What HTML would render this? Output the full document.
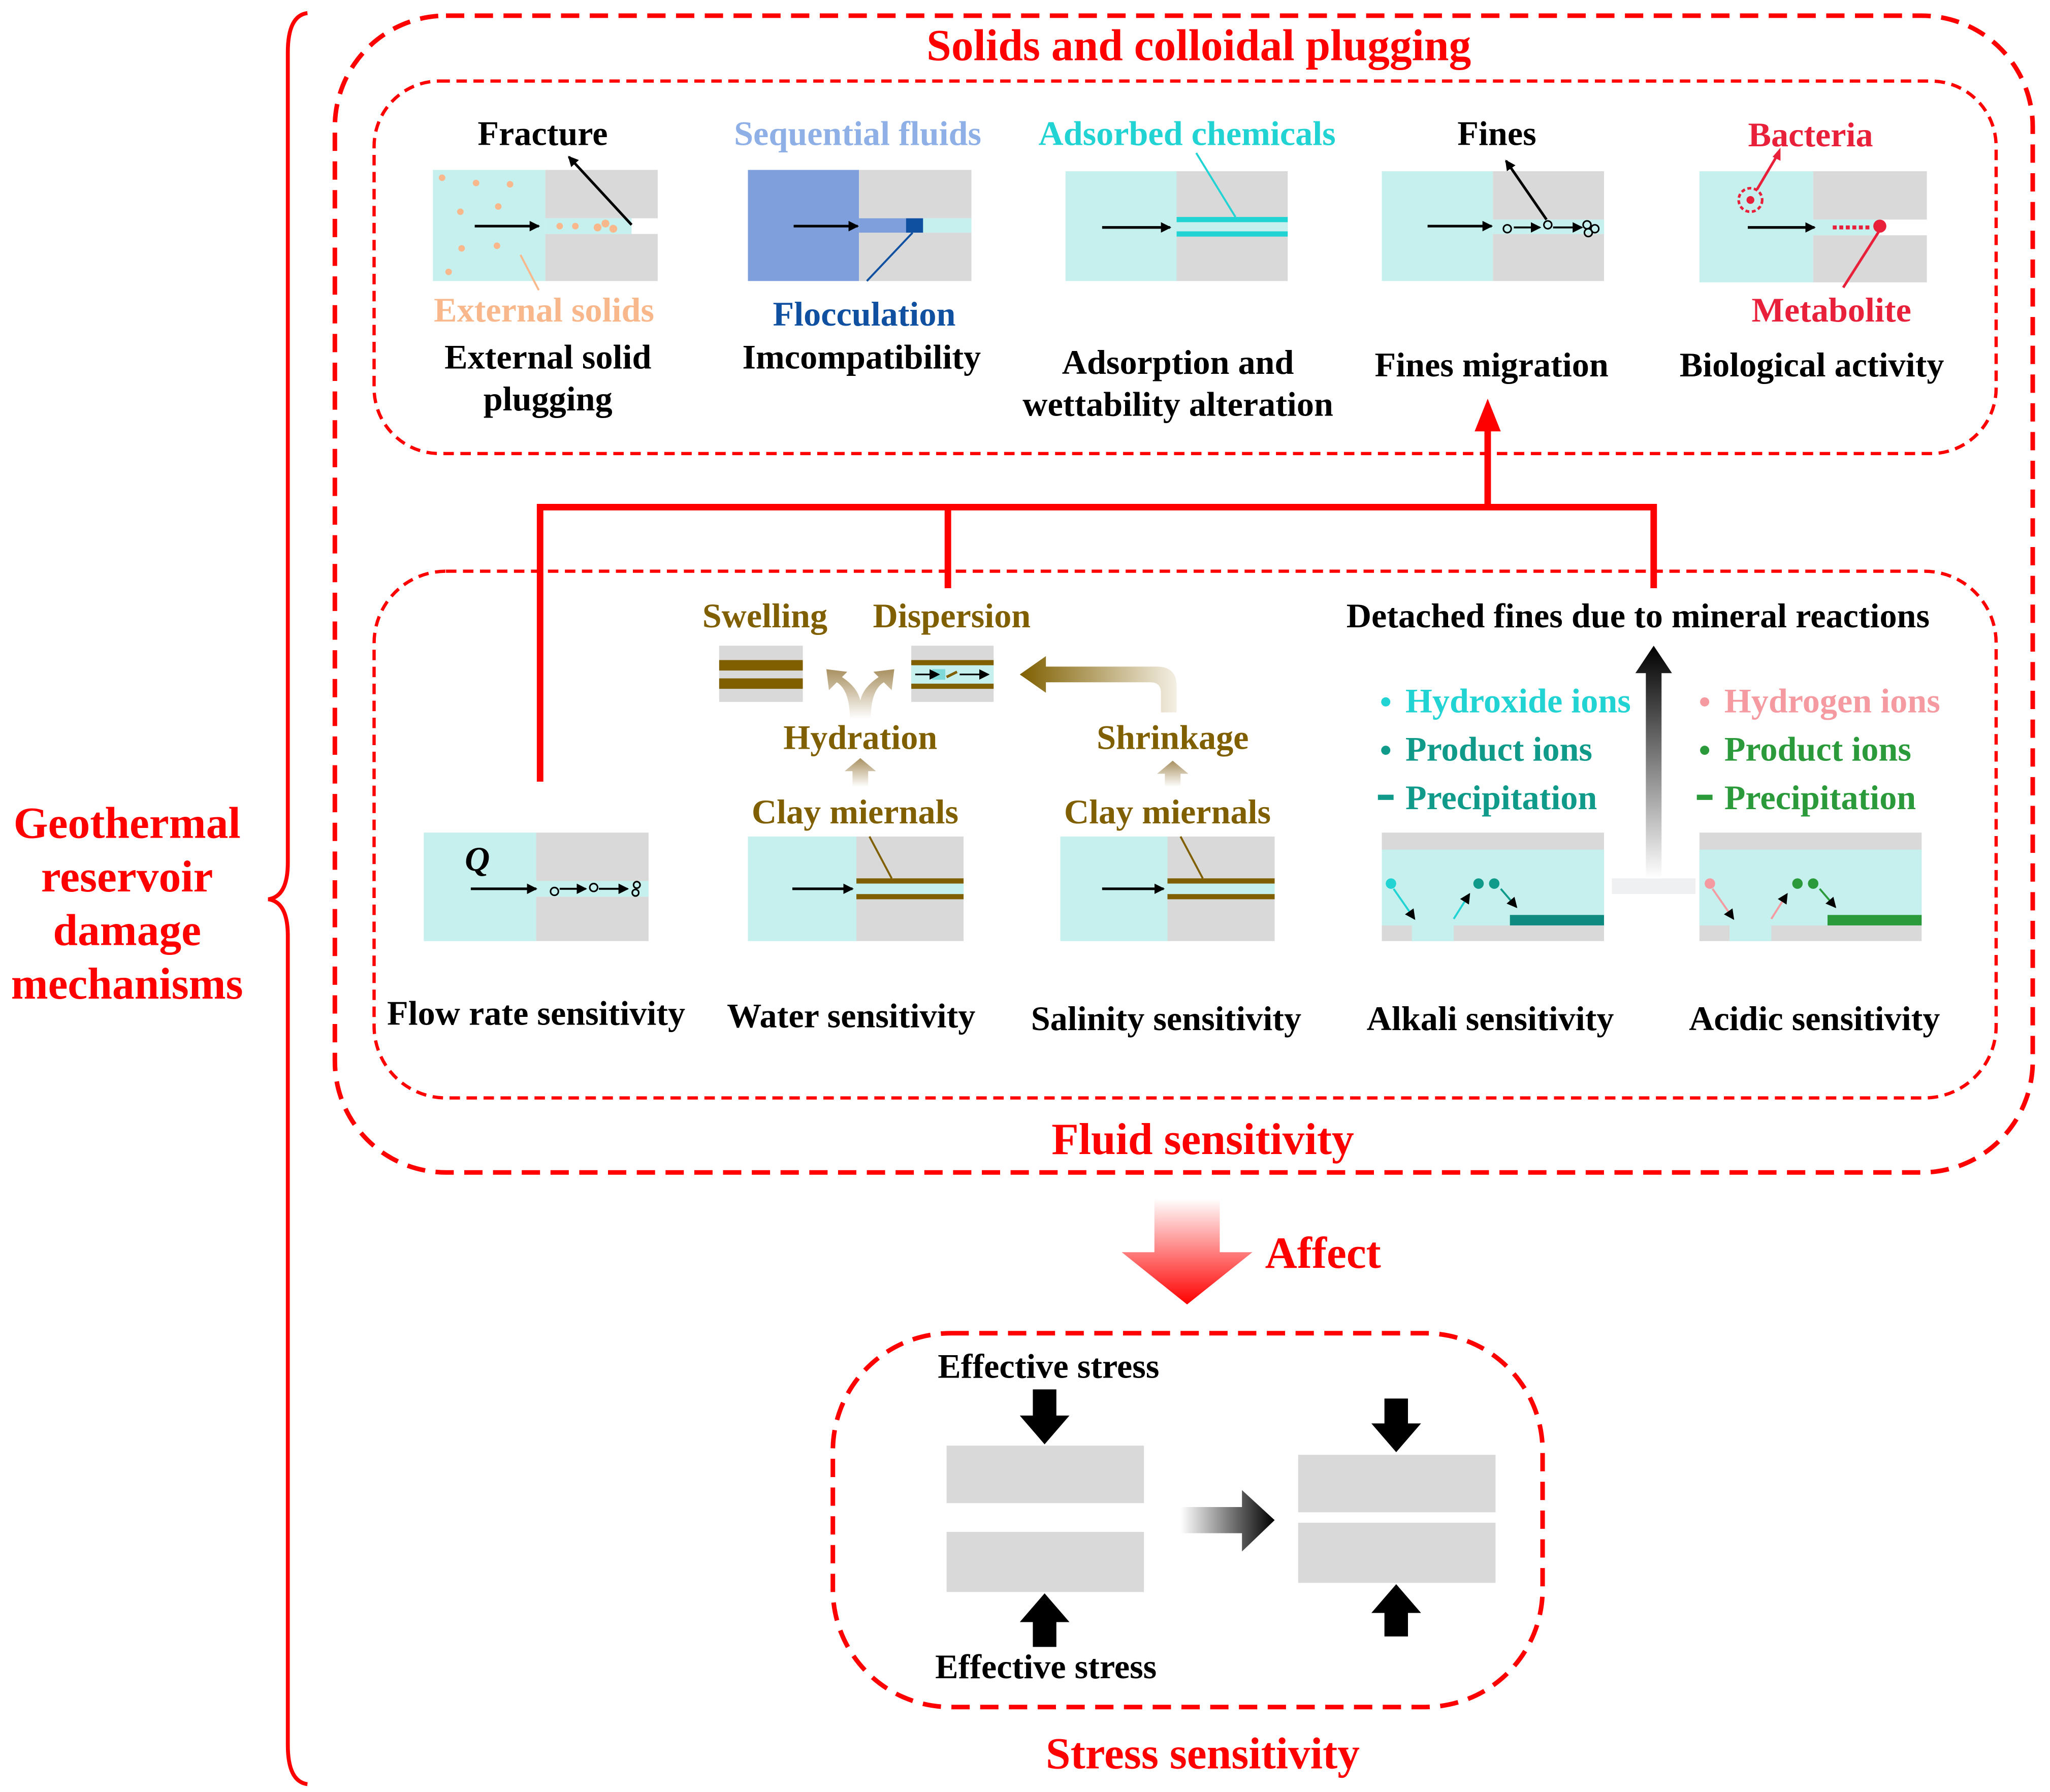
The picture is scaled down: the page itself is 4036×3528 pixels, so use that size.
<!DOCTYPE html>
<html><head><meta charset="utf-8"><style>html,body{margin:0;padding:0;background:#fff}svg{display:block}</style></head><body>
<svg width="4036" height="3528" viewBox="0 0 1568 1371" xmlns="http://www.w3.org/2000/svg" font-family="Liberation Serif, serif" font-weight="bold">
<defs>
<linearGradient id="gr" x1="0" y1="0" x2="0" y2="1"><stop offset="0" stop-color="#fff"/><stop offset="1" stop-color="#f00"/></linearGradient>
<linearGradient id="gb" x1="0" y1="1" x2="0" y2="0"><stop offset="0" stop-color="#fff"/><stop offset="1" stop-color="#000"/></linearGradient>
<linearGradient id="gh" x1="0" y1="0" x2="1" y2="0"><stop offset="0" stop-color="#fff"/><stop offset="1" stop-color="#000"/></linearGradient>
<linearGradient id="gbr" x1="1" y1="0" x2="0" y2="0"><stop offset="0" stop-color="#f4efe4"/><stop offset="1" stop-color="#7f5f00"/></linearGradient>
<linearGradient id="gbu" x1="0" y1="1" x2="0" y2="0"><stop offset="0" stop-color="#fff"/><stop offset="1" stop-color="#a89060"/></linearGradient>
<marker id="ah" markerWidth="8" markerHeight="8" refX="7" refY="4" orient="auto" markerUnits="userSpaceOnUse"><path d="M0,0 L8,4 L0,8z" fill="#000"/></marker>
</defs>
<path d="M235,10 Q220,12 220,40 L220,660 Q220,686 205,688 Q220,690 220,716 L220,1335 Q220,1363 235,1365" fill="none" stroke="#f00" stroke-width="3"/>
<g fill="#f00" font-size="34" text-anchor="middle"><text x="97" y="641">Geothermal</text><text x="97" y="682">reservoir</text><text x="97" y="723">damage</text><text x="97" y="764">mechanisms</text></g>
<rect x="256" y="12" width="1299" height="885" rx="85" fill="none" stroke="#f00" stroke-width="3.5" stroke-dasharray="14,8"/>
<rect x="286" y="62" width="1241" height="285" rx="50" fill="none" stroke="#f00" stroke-width="2.5" stroke-dasharray="8,5"/>
<rect x="286" y="437" width="1241" height="403" rx="55" fill="none" stroke="#f00" stroke-width="2.5" stroke-dasharray="8,5"/>
<rect x="637" y="1020" width="543" height="286" rx="90" fill="none" stroke="#f00" stroke-width="3.5" stroke-dasharray="14,8"/>
<g fill="#f00" font-size="34" text-anchor="middle">
<text x="917" y="46">Solids and colloidal plugging</text>
<text x="920" y="883">Fluid sensitivity</text>
<text x="920" y="1353">Stress sensitivity</text>
<text x="1012" y="970">Affect</text></g>
<path d="M883,917 H933 V958 H958 L908,998 L858,958 H883z" fill="url(#gr)"/>
<g stroke="#f00" stroke-width="5" fill="none"><path d="M413,598 V388 H1265 V450"/><path d="M725,388 V450"/><path d="M1138,388 V325"/></g>
<path d="M1128,330 L1138,305 L1148,330z" fill="#f00"/>
<g font-size="26.5" text-anchor="middle" fill="#000">
<rect x="331" y="130" width="86" height="85" fill="#c5f0ee"/><rect x="417" y="130" width="86" height="37" fill="#d9d9d9"/><rect x="417" y="179" width="86" height="36" fill="#d9d9d9"/><rect x="417" y="167" width="66" height="12" fill="#c5f0ee"/>
<line x1="363" y1="173" x2="412" y2="173" stroke="#000" stroke-width="2" marker-end="url(#ah)"/>
<line x1="483" y1="172" x2="435" y2="120" stroke="#000" stroke-width="2" marker-end="url(#ah)"/>
<g fill="#f8b88b"><circle cx="338" cy="136" r="2.5"/><circle cx="364" cy="140" r="2.5"/><circle cx="390" cy="141" r="2.5"/><circle cx="352" cy="162" r="2.5"/><circle cx="381" cy="158" r="2.5"/><circle cx="353" cy="190" r="2.5"/><circle cx="380" cy="188" r="2.5"/><circle cx="343" cy="208" r="2.5"/><circle cx="428" cy="173" r="2.5"/><circle cx="440" cy="173" r="2.5"/><circle cx="457" cy="174" r="3"/><circle cx="463" cy="171" r="3"/><circle cx="469" cy="175" r="3"/></g>
<line x1="398" y1="195" x2="412" y2="222" stroke="#f8b88b" stroke-width="1.5"/>
<text x="415" y="111">Fracture</text><text x="416" y="246" fill="#f8b88b">External solids</text><text x="419" y="282">External solid</text><text x="419" y="314">plugging</text>
<rect x="572" y="130" width="85" height="85" fill="#7f9fdc"/><rect x="657" y="130" width="86" height="37" fill="#d9d9d9"/><rect x="657" y="178" width="86" height="37" fill="#d9d9d9"/><rect x="657" y="167" width="86" height="11" fill="#c5f0ee"/><rect x="657" y="167" width="36" height="11" fill="#7f9fdc"/><rect x="693" y="167" width="13" height="11" fill="#1050a0"/>
<line x1="607" y1="173" x2="656" y2="173" stroke="#000" stroke-width="2" marker-end="url(#ah)"/>
<line x1="698" y1="178" x2="663" y2="215" stroke="#1050a0" stroke-width="1.5"/>
<text x="656" y="111" fill="#8fb0e6">Sequential fluids</text><text x="661" y="249" fill="#1050a0">Flocculation</text><text x="659" y="282">Imcompatibility</text>
<rect x="815" y="131" width="85" height="84" fill="#c5f0ee"/><rect x="900" y="131" width="85" height="84" fill="#d9d9d9"/><rect x="900" y="166" width="85" height="4" fill="#22d3d3"/><rect x="900" y="177" width="85" height="4" fill="#22d3d3"/><rect x="900" y="170" width="85" height="7" fill="#c5f0ee"/>
<line x1="843" y1="174" x2="895" y2="174" stroke="#000" stroke-width="2" marker-end="url(#ah)"/>
<line x1="945" y1="166" x2="915" y2="117" stroke="#22d3d3" stroke-width="1.5"/>
<text x="908" y="111" fill="#22d3d3">Adsorbed chemicals</text><text x="901" y="286">Adsorption and</text><text x="901" y="318">wettability alteration</text>
<rect x="1057" y="131" width="85" height="84" fill="#c5f0ee"/><rect x="1142" y="131" width="85" height="37" fill="#d9d9d9"/><rect x="1142" y="179" width="85" height="36" fill="#d9d9d9"/><rect x="1142" y="168" width="85" height="11" fill="#c5f0ee"/>
<line x1="1092" y1="173" x2="1141" y2="173" stroke="#000" stroke-width="2" marker-end="url(#ah)"/>
<line x1="1158" y1="174" x2="1178" y2="174" stroke="#000" stroke-width="1.5" marker-end="url(#ah)"/><line x1="1188" y1="174" x2="1210" y2="174" stroke="#000" stroke-width="1.5" marker-end="url(#ah)"/>
<g fill="none" stroke="#000" stroke-width="1.2"><circle cx="1153" cy="175" r="3"/><circle cx="1184" cy="172" r="3"/><circle cx="1214" cy="172" r="3"/><circle cx="1220" cy="175" r="3"/><circle cx="1215" cy="178" r="3"/></g>
<line x1="1183" y1="168" x2="1152" y2="123" stroke="#000" stroke-width="2" marker-end="url(#ah)"/>
<text x="1145" y="111">Fines</text><text x="1141" y="288">Fines migration</text>
<rect x="1300" y="131" width="87" height="85" fill="#c5f0ee"/><rect x="1387" y="131" width="87" height="37" fill="#d9d9d9"/><rect x="1387" y="180" width="87" height="36" fill="#d9d9d9"/><rect x="1387" y="168" width="50" height="12" fill="#c5f0ee"/>
<line x1="1337" y1="174" x2="1388" y2="174" stroke="#000" stroke-width="2" marker-end="url(#ah)"/>
<circle cx="1339" cy="153" r="9" fill="none" stroke="#e8203a" stroke-width="2" stroke-dasharray="3,2"/><circle cx="1339" cy="153" r="3" fill="#e8203a"/>
<line x1="1344" y1="145" x2="1360" y2="118" stroke="#e8203a" stroke-width="2"/><path d="M1356,120 L1362,113 L1362,123z" fill="#e8203a"/>
<line x1="1402" y1="174" x2="1430" y2="174" stroke="#e8203a" stroke-width="3" stroke-dasharray="3,2"/><circle cx="1438" cy="173" r="5" fill="#e8203a"/>
<line x1="1438" y1="176" x2="1410" y2="220" stroke="#e8203a" stroke-width="2"/>
<text x="1385" y="112" fill="#e8203a">Bacteria</text><text x="1401" y="246" fill="#e8203a">Metabolite</text><text x="1386" y="288">Biological activity</text>
<rect x="324" y="637" width="86" height="83" fill="#c5f0ee"/><rect x="410" y="637" width="86" height="37" fill="#d9d9d9"/><rect x="410" y="686" width="86" height="34" fill="#d9d9d9"/><rect x="410" y="674" width="86" height="12" fill="#c5f0ee"/>
<text x="365" y="666" font-style="italic">Q</text>
<line x1="360" y1="680" x2="410" y2="680" stroke="#000" stroke-width="2" marker-end="url(#ah)"/>
<line x1="428" y1="680" x2="448" y2="680" stroke="#000" stroke-width="1.5" marker-end="url(#ah)"/><line x1="458" y1="680" x2="480" y2="680" stroke="#000" stroke-width="1.5" marker-end="url(#ah)"/>
<g fill="none" stroke="#000" stroke-width="1.2"><circle cx="424" cy="682" r="3"/><circle cx="454" cy="679" r="3"/><circle cx="487" cy="677" r="2.5"/><circle cx="486" cy="683" r="2.5"/></g>
<text x="410" y="784">Flow rate sensitivity</text>
<rect x="572" y="640" width="83" height="80" fill="#c5f0ee"/><rect x="655" y="640" width="82" height="80" fill="#d9d9d9"/><rect x="655" y="672" width="82" height="4" fill="#7f5f00"/><rect x="655" y="684" width="82" height="4" fill="#7f5f00"/><rect x="655" y="676" width="82" height="8" fill="#c5f0ee"/>
<line x1="606" y1="680" x2="652" y2="680" stroke="#000" stroke-width="2" marker-end="url(#ah)"/>
<line x1="682" y1="672" x2="665" y2="640" stroke="#7f5f00" stroke-width="1.5"/>
<g fill="#7f5f00"><text x="654" y="630">Clay miernals</text><text x="658" y="573">Hydration</text><text x="585" y="480">Swelling</text><text x="728" y="480">Dispersion</text><text x="897" y="573">Shrinkage</text><text x="893" y="630">Clay miernals</text></g>
<path d="M652,602 V590 H646 L658,580 L670,590 H664 V602z" fill="url(#gbu)"/>
<path d="M650,550 Q650,528 640,522 L634,528 L632,512 L648,514 L644,518 Q656,526 658,536 Q660,526 672,518 L668,514 L684,512 L682,528 L676,522 Q666,528 666,550z" fill="url(#gbu)"/>
<rect x="550" y="494" width="64" height="43" fill="#d9d9d9"/><rect x="550" y="505" width="64" height="8" fill="#7f5f00"/><rect x="550" y="519" width="64" height="8" fill="#7f5f00"/>
<rect x="697" y="494" width="63" height="43" fill="#d9d9d9"/><rect x="697" y="505" width="63" height="4" fill="#7f5f00"/><rect x="697" y="523" width="63" height="4" fill="#7f5f00"/><rect x="697" y="509" width="63" height="14" fill="#c5f0ee"/><rect x="713" y="512" width="10" height="8" fill="#7fd8d8"/>
<line x1="700" y1="516" x2="718" y2="516" stroke="#000" stroke-width="1.2" marker-end="url(#ah)"/><line x1="734" y1="516" x2="756" y2="516" stroke="#000" stroke-width="1.2" marker-end="url(#ah)"/><line x1="724" y1="518" x2="732" y2="514" stroke="#7f5f00" stroke-width="2"/>
<text x="651" y="786">Water sensitivity</text>
<rect x="811" y="640" width="82" height="80" fill="#c5f0ee"/><rect x="893" y="640" width="82" height="80" fill="#d9d9d9"/><rect x="893" y="672" width="82" height="4" fill="#7f5f00"/><rect x="893" y="684" width="82" height="4" fill="#7f5f00"/><rect x="893" y="676" width="82" height="8" fill="#c5f0ee"/>
<line x1="843" y1="680" x2="890" y2="680" stroke="#000" stroke-width="2" marker-end="url(#ah)"/>
<line x1="920" y1="672" x2="903" y2="640" stroke="#7f5f00" stroke-width="1.5"/>
<path d="M891,602 V592 H885 L897,582 L909,592 H903 V602z" fill="url(#gbu)"/>
<path d="M888,545 V530 Q888,522 880,522 H800 V530 L780,516 L800,502 V510 H885 Q900,510 900,525 V545z" fill="url(#gbr)"/>
<text x="892" y="788">Salinity sensitivity</text>
<text x="1253" y="480">Detached fines due to mineral reactions</text>
<rect x="1057" y="637" width="170" height="83" fill="#d9d9d9"/><rect x="1057" y="650" width="170" height="58" fill="#c5f0ee"/><rect x="1080" y="708" width="32" height="12" fill="#c5f0ee"/><rect x="1155" y="700" width="72" height="8" fill="#0f8a80"/>
<circle cx="1064" cy="676" r="4" fill="#22d3d3"/><line x1="1066" y1="680" x2="1082" y2="703" stroke="#22d3d3" stroke-width="1.5" marker-end="url(#ah)"/>
<line x1="1112" y1="703" x2="1124" y2="684" stroke="#22d3d3" stroke-width="1.5" marker-end="url(#ah)"/>
<circle cx="1131" cy="676" r="4" fill="#0f9a8a"/><circle cx="1143" cy="676" r="4" fill="#0f9a8a"/><line x1="1148" y1="680" x2="1160" y2="694" stroke="#0f9a8a" stroke-width="1.5" marker-end="url(#ah)"/>
<g text-anchor="start"><circle cx="1060" cy="537" r="3.5" fill="#22d3d3"/><text x="1075" y="545" fill="#22d3d3">Hydroxide ions</text>
<circle cx="1060" cy="574" r="3.5" fill="#0f9a8a"/><text x="1075" y="582" fill="#0f9a8a">Product ions</text>
<rect x="1054" y="608" width="12" height="4" fill="#0f9a8a"/><text x="1075" y="619" fill="#0f9a8a">Precipitation</text>
<circle cx="1304" cy="537" r="3.5" fill="#f59aa0"/><text x="1319" y="545" fill="#f59aa0">Hydrogen ions</text>
<circle cx="1304" cy="574" r="3.5" fill="#2a9a3a"/><text x="1319" y="582" fill="#2a9a3a">Product ions</text>
<rect x="1298" y="608" width="12" height="4" fill="#2a9a3a"/><text x="1319" y="619" fill="#2a9a3a">Precipitation</text></g>
<text x="1140" y="788">Alkali sensitivity</text>
<rect x="1300" y="637" width="170" height="83" fill="#d9d9d9"/><rect x="1300" y="650" width="170" height="58" fill="#c5f0ee"/><rect x="1323" y="708" width="32" height="12" fill="#c5f0ee"/><rect x="1398" y="700" width="72" height="8" fill="#2a9a3a"/>
<circle cx="1308" cy="676" r="4" fill="#f59aa0"/><line x1="1310" y1="680" x2="1326" y2="703" stroke="#f59aa0" stroke-width="1.5" marker-end="url(#ah)"/>
<line x1="1355" y1="703" x2="1367" y2="684" stroke="#f59aa0" stroke-width="1.5" marker-end="url(#ah)"/>
<circle cx="1375" cy="676" r="4" fill="#2a9a3a"/><circle cx="1387" cy="676" r="4" fill="#2a9a3a"/><line x1="1392" y1="680" x2="1404" y2="694" stroke="#2a9a3a" stroke-width="1.5" marker-end="url(#ah)"/>
<text x="1388" y="788">Acidic sensitivity</text>
<rect x="1233" y="672" width="64" height="12" fill="#eef0f2"/>
<path d="M1259,672 V515 H1251 L1265,494 L1279,515 H1271 V672z" fill="url(#gb)"/>
<rect x="724" y="1106" width="151" height="44" fill="#d9d9d9"/><rect x="724" y="1172" width="151" height="46" fill="#d9d9d9"/>
<rect x="993" y="1113" width="151" height="44" fill="#d9d9d9"/><rect x="993" y="1165" width="151" height="46" fill="#d9d9d9"/>
<path d="M790,1063 H808 V1083 H818 L799,1105 L780,1083 H790z" fill="#000"/>
<path d="M790,1260 H808 V1241 H818 L799,1219 L780,1241 H790z" fill="#000"/>
<path d="M1059,1070 H1077 V1089 H1087 L1068,1111 L1049,1089 H1059z" fill="#000"/>
<path d="M1059,1252 H1077 V1234 H1087 L1068,1212 L1049,1234 H1059z" fill="#000"/>
<path d="M903,1153 H950 V1140 L975,1163 L950,1187 V1173 H903z" fill="url(#gh)"/>
<text x="802" y="1054">Effective stress</text><text x="800" y="1284">Effective stress</text>
</g>
</svg>
</body></html>
